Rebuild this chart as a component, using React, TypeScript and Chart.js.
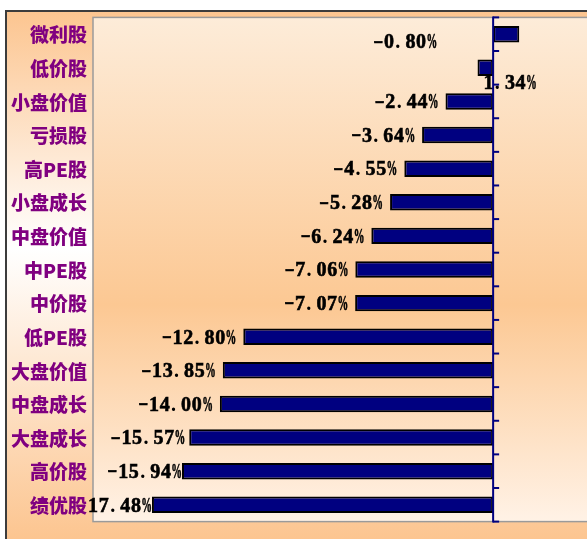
import React, { useEffect, useRef } from 'react';
import { Chart, registerables } from 'chart.js';

Chart.register(...registerables);

// ---- data ----
const categories = ['微利股', '低价股', '小盘价值', '亏损股', '高PE股', '小盘成长', '中盘价值', '中PE股', '中价股', '低PE股', '大盘价值', '中盘成长', '大盘成长', '高价股', '绩优股'];
const barValues = [1.34, -0.80, -2.44, -3.64, -4.55, -5.28, -6.24, -7.06, -7.07, -12.80, -13.85, -14.00, -15.57, -15.94, -17.48];
const labelValues = [-0.80, 1.34, -2.44, -3.64, -4.55, -5.28, -6.24, -7.06, -7.07, -12.80, -13.85, -14.00, -15.57, -15.94, -17.48];

const W = 640;
const H = 539;

function drawMono(ctx: CanvasRenderingContext2D, text: string, left: number, baseline: number, cell: number) {
  for (let k = 0; k < text.length; k++) {
    const c = text[k];
    const cx = left + k * cell;
    const w = ctx.measureText(c).width;
    ctx.save();
    if (c === '-') {
      ctx.translate(cx + 0.5, baseline - 1.5);
      ctx.scale((cell - 1) / w, 1);
      ctx.fillText(c, 0, 0);
      ctx.strokeText(c, 0, 0);
    } else if (c === '%') {
      ctx.translate(cx, baseline);
      ctx.scale(cell / w, 1);
      ctx.fillText(c, 0, 0);
      ctx.strokeText(c, 0, 0);
    } else if (c === '.') {
      ctx.fillText(c, cx + 1, baseline);
    } else {
      ctx.fillText(c, cx + (cell - w) / 2, baseline);
      ctx.strokeText(c, cx + (cell - w) / 2, baseline);
    }
    ctx.restore();
  }
}

export default function App() {
  const ref = useRef<HTMLCanvasElement>(null);

  useEffect(() => {
    const canvas = ref.current!;

    const bgPlugin = {
      id: 'bgPlugin',
      beforeDraw(chart: any) {
        const { ctx, chartArea: a } = chart;
        ctx.save();
        ctx.fillStyle = '#ffffff';
        ctx.fillRect(0, 0, W, H);
        const g = ctx.createLinearGradient(0, 11, 0, H);
        g.addColorStop(0, '#fcc590');
        g.addColorStop(0.45, '#ffffff');
        g.addColorStop(1, '#fcc590');
        ctx.fillStyle = g;
        ctx.fillRect(6, 11, W - 6, H - 11);
        ctx.strokeStyle = '#3c3c3c';
        ctx.lineWidth = 2;
        ctx.beginPath();
        ctx.moveTo(6, H);
        ctx.lineTo(6, 11);
        ctx.lineTo(W, 11);
        ctx.stroke();
        const pg = ctx.createLinearGradient(0, a.top, 0, a.bottom);
        pg.addColorStop(0, '#fdecd9');
        pg.addColorStop(0.57, '#fcc893');
        pg.addColorStop(1, '#fff2e6');
        ctx.fillStyle = pg;
        ctx.fillRect(a.left, a.top, a.right - a.left, a.bottom - a.top);
        ctx.strokeStyle = '#9a9a9a';
        ctx.lineWidth = 1.5;
        ctx.strokeRect(a.left, a.top, a.right - a.left, a.bottom - a.top);
        ctx.restore();
      },
    };

    const labelPlugin = {
      id: 'labelPlugin',
      afterDatasetsDraw(chart: any) {
        const ctx: CanvasRenderingContext2D = chart.ctx;
        const meta = chart.getDatasetMeta(0);
        const xs = chart.scales.x;
        const ys = chart.scales.y;
        const x0 = xs.getPixelForValue(0);
        const cell = 10.7;
        ctx.save();
        ctx.beginPath();
        ctx.rect(87, 0, W, H);
        ctx.clip();
        ctx.font = 'bold 20px "Liberation Serif"';
        ctx.fillStyle = '#000000';
        ctx.strokeStyle = '#000000';
        ctx.lineWidth = 0.6;
        ctx.textBaseline = 'alphabetic';
        labelValues.forEach((v, i) => {
          const el = meta.data[i];
          const text = v.toFixed(2) + '%';
          const tw = text.length * cell;
          let left: number;
          let cy = el.y;
          if (i === 0) {
            left = x0 - 56 - tw;
            cy += 7;
          } else if (i === 1) {
            left = x0 - 10;
            cy += 14;
          } else {
            const barLeft = Math.min(el.x, el.base);
            const gap = i >= 13 ? 0 : i === 12 ? 4 : 7;
            left = barLeft - gap - tw;
          }
          drawMono(ctx, text, left, cy + 6.8, cell);
        });
        ctx.restore();

        // category axis at zero
        const a = chart.chartArea;
        const p0 = ys.getPixelForValue(0);
        const p1 = ys.getPixelForValue(1);
        const step = p1 - p0;
        ctx.save();
        ctx.strokeStyle = '#000080';
        ctx.lineWidth = 2;
        ctx.beginPath();
        ctx.moveTo(x0, a.top - 1);
        ctx.lineTo(x0, a.bottom + 1);
        ctx.stroke();
        for (let k = 0; k <= categories.length; k++) {
          const y = p0 - step / 2 + k * step;
          ctx.beginPath();
          ctx.moveTo(x0, y);
          ctx.lineTo(x0 + 6, y);
          ctx.stroke();
        }
        ctx.restore();
      },
    };

    const chart = new Chart(canvas, {
      type: 'bar',
      data: {
        labels: categories,
        datasets: [
          {
            data: barValues,
            backgroundColor: '#000080',
            borderColor: '#000000',
            borderWidth: 2,
            borderSkipped: false,
            barPercentage: 0.49,
            categoryPercentage: 1,
          } as any,
        ],
      },
      options: {
        indexAxis: 'y',
        responsive: false,
        maintainAspectRatio: false,
        animation: false,
        devicePixelRatio: 1,
        layout: { padding: { top: 17, bottom: 10, right: 20, left: 0 } },
        plugins: { legend: { display: false }, tooltip: { enabled: false } },
        scales: {
          x: { display: false, min: -20.5, max: 6.5 },
          y: {
            grid: { display: false, drawTicks: false },
            border: { display: false },
            ticks: {
              color: '#800080',
              font: { family: '"Noto Sans CJK SC"', size: 19, weight: '900' },
              padding: 6,
              autoSkip: false,
              labelOffset: 1,
            },
            afterFit: (s: any) => {
              s.width = 93;
            },
          },
        },
      } as any,
      plugins: [bgPlugin, labelPlugin],
    });

    return () => chart.destroy();
  }, []);

  return (
    <div style={{ position: 'fixed', left: 0, top: 0, width: 587, height: 539, overflow: 'hidden', background: '#fff' }}>
      <canvas ref={ref} width={W} height={H} style={{ display: 'block' }} />
    </div>
  );
}
